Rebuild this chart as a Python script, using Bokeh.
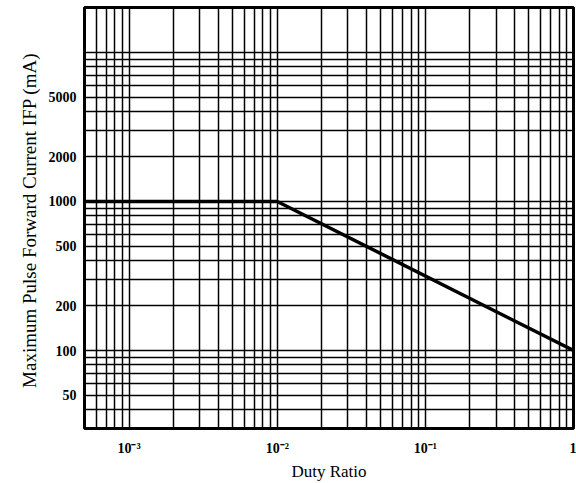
from bokeh.plotting import figure
from bokeh.models import FixedTicker, Range1d
from bokeh.embed import file_html
from bokeh.resources import INLINE

# data
duty = [5e-4, 1e-2, 1.0]
ifp = [1000, 1000, 100]

x_ticks = [1e-3, 1e-2, 1e-1, 1.0]
x_tick_labels = ["10\u207b\u00b3", "10\u207b\u00b2", "10\u207b\u00b9", "1"]
y_ticks = [50, 100, 200, 500, 1000, 2000, 5000]
y_tick_labels = ["50", "100", "200", "500", "1000", "2000", "5000"]

x_grid = [m * 10.0 ** e for e in (-4, -3, -2, -1) for m in range(1, 10)]
x_grid = [v for v in x_grid if 5e-4 <= v <= 1.0] + [1.0]
y_grid = [m * 10.0 ** e for e in (1, 2, 3) for m in range(1, 10)] + [10000]
y_grid = [v for v in y_grid if 40 <= v <= 10000]

p = figure(width=576, height=483, x_axis_type="log", y_axis_type="log",
           x_range=Range1d(5e-4, 1.0), y_range=Range1d(30, 20000),
           output_backend="svg", toolbar_location=None,
           min_border_left=84, min_border_right=3, min_border_top=7, min_border_bottom=50)

p.outline_line_color = "black"
p.outline_line_width = 3
p.outline_line_alpha = 1

for ax in (p.xaxis[0], p.yaxis[0]):
    ax.axis_line_color = None
    ax.major_tick_line_color = None
    ax.minor_tick_line_color = None
    ax.major_label_text_font = "Liberation Serif"
    ax.major_label_text_font_size = "14px"
    ax.major_label_text_font_style = "bold"
    ax.major_label_text_color = "black"
    ax.axis_label_text_font = "Liberation Serif"
    ax.axis_label_text_font_style = "normal"
    ax.axis_label_text_color = "black"

p.xaxis.axis_label_text_font_size = "17px"
p.yaxis.axis_label_text_font_size = "19px"

p.xaxis.ticker = FixedTicker(ticks=x_ticks)
p.xaxis.major_label_overrides = dict(zip(x_ticks, x_tick_labels))
p.yaxis.ticker = FixedTicker(ticks=y_ticks)
p.yaxis.major_label_overrides = dict(zip(y_ticks, y_tick_labels))
p.xaxis.major_label_standoff = 6
p.yaxis.major_label_standoff = 2
p.xaxis.axis_label = "Duty Ratio"
p.yaxis.axis_label = "Maximum Pulse Forward Current  IFP (mA)"
p.xaxis.axis_label_standoff = 3
p.yaxis.axis_label_standoff = 6

p.xgrid.ticker = FixedTicker(ticks=x_grid)
p.ygrid.ticker = FixedTicker(ticks=y_grid)
for g in (p.xgrid[0], p.ygrid[0]):
    g.grid_line_color = "black"
    g.grid_line_width = 1.5
    g.grid_line_alpha = 1

p.line(duty, ifp, line_color="black", line_width=3.5)

open("out.html", "w").write(file_html(p, INLINE))
